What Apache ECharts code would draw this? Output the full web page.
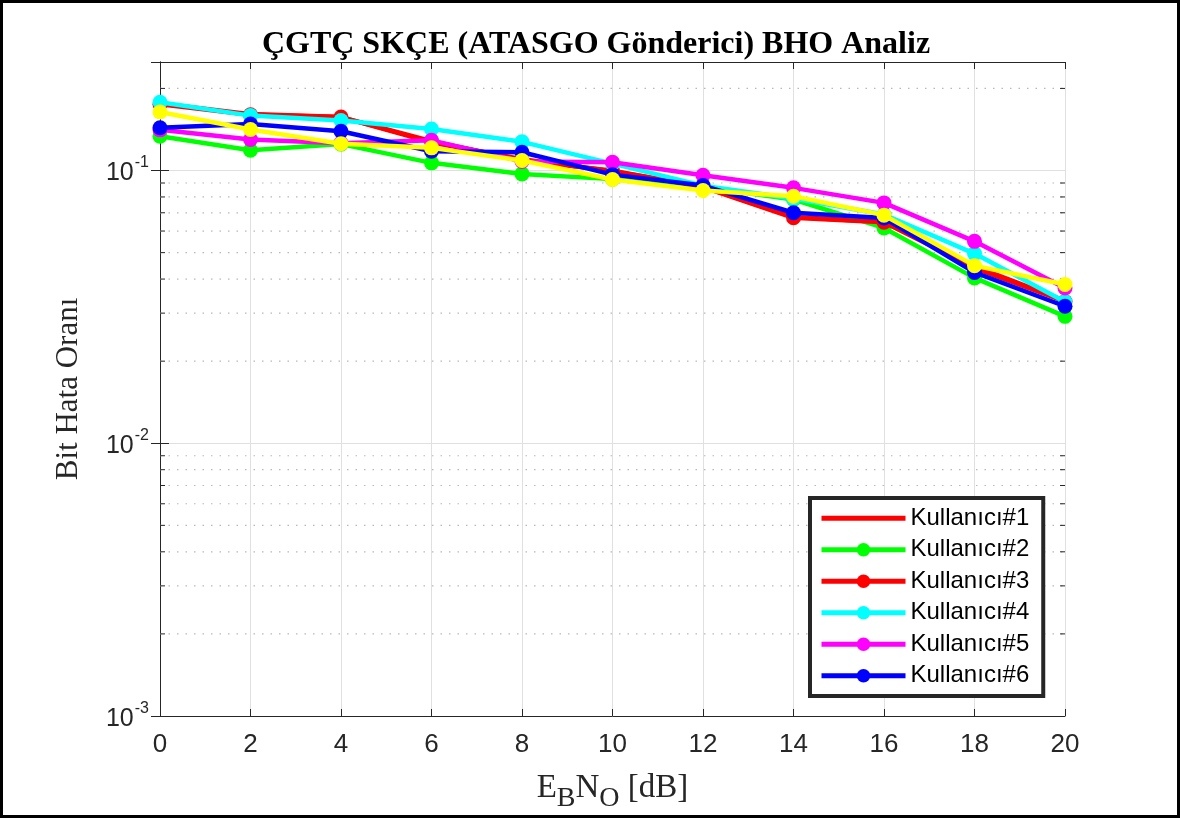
<!DOCTYPE html>
<html>
<head>
<meta charset="utf-8">
<script src="https://cdn.jsdelivr.net/npm/echarts@6/dist/echarts.min.js"></script>
<style>
  html, body { margin: 0; padding: 0; background: #fff; }
  #view { width: 1180px; height: 818px; }
</style>
</head>
<body>
<div id="view"></div>
<script>
var snr = [0, 2, 4, 6, 8, 10, 12, 14, 16, 18, 20];

var user1 = [0.176, 0.161, 0.157, 0.127, 0.110, 0.0995, 0.0872, 0.0675, 0.0648, 0.0445, 0.0333];
var user2 = [0.1336, 0.1187, 0.125, 0.1067, 0.0972, 0.0930, 0.0870, 0.0783, 0.0616, 0.0404, 0.0292];
var user3 = [0.175, 0.160, 0.157, 0.128, 0.109, 0.0998, 0.0870, 0.0671, 0.0646, 0.0440, 0.0331];
var user4 = [0.178, 0.159, 0.1525, 0.142, 0.1274, 0.106, 0.0880, 0.0790, 0.0690, 0.0496, 0.0330];
var user5 = [0.141, 0.130, 0.126, 0.129, 0.108, 0.1073, 0.0961, 0.0864, 0.0761, 0.0550, 0.0371];
var user6 = [0.1435, 0.148, 0.1394, 0.1177, 0.1167, 0.0966, 0.0881, 0.0700, 0.0670, 0.0423, 0.0318];
var user7 = [0.164, 0.1414, 0.1253, 0.1211, 0.1088, 0.0927, 0.0845, 0.0805, 0.0686, 0.0448, 0.0382];

var names = ['Kullanıcı#1', 'Kullanıcı#2', 'Kullanıcı#3', 'Kullanıcı#4', 'Kullanıcı#5', 'Kullanıcı#6', 'Kullanıcı#7'];
var colors = ['#ff0000', '#00ff00', '#ff0000', '#00ffff', '#ff00ff', '#0000ff', '#ffff00'];
var minorVals = [0.002, 0.003, 0.004, 0.005, 0.006, 0.007, 0.008, 0.009,
                 0.02, 0.03, 0.04, 0.05, 0.06, 0.07, 0.08, 0.09, 0.2];

var myChart = echarts.init(document.getElementById('view'));

function pairs(arr) {
    return arr.map(function (v, i) { return [snr[i], v]; });
}

var allData = [user1, user2, user3, user4, user5, user6, user7];
var lineSeries = allData.map(function (d, i) {
    return {
        name: names[i],
        type: 'line',
        data: pairs(d),
        symbol: i === 0 ? 'none' : 'circle',
        symbolSize: 15,
        showSymbol: i !== 0,
        color: colors[i],
        lineStyle: { width: 4.5, color: colors[i] },
        itemStyle: { color: colors[i] },
        z: 3 + i,
        animation: false
    };
});

// dotted minor grid + minor ticks for the log axis (2..9 of each decade)
var minorSeries = {
    type: 'custom',
    silent: true,
    z: 1,
    data: minorVals.map(function (v) { return [0, v]; }),
    encode: { x: 0, y: 1 },
    renderItem: function (params, api) {
        var v = api.value(1);
        var p0 = api.coord([0, v]);
        var p1 = api.coord([20, v]);
        return {
            type: 'group',
            children: [
                { type: 'line', shape: { x1: p0[0], y1: p0[1], x2: p1[0], y2: p1[1] },
                  style: { stroke: '#b8b8b8', lineWidth: 1.2, lineDash: [1.5, 7] } },
                { type: 'line', shape: { x1: p0[0], y1: p0[1], x2: p0[0] + 5, y2: p0[1] },
                  style: { stroke: '#262626', lineWidth: 1 } },
                { type: 'line', shape: { x1: p1[0], y1: p1[1], x2: p1[0] - 5, y2: p1[1] },
                  style: { stroke: '#262626', lineWidth: 1 } }
            ]
        };
    },
    animation: false
};

function logLabel(value) {
    var l = Math.log10(value);
    var e = Math.round(l);
    if (Math.abs(l - e) > 1e-6) return '';
    return '{b|10}{s|' + e + '}';
}

var axisColor = '#262626';

var legendData = names.slice(0, 6).map(function (n, i) {
    return i === 0 ? { name: n, itemStyle: { opacity: 0 } } : { name: n };
});

option = {
    backgroundColor: '#fff',
    animation: false,
    title: {
        text: 'ÇGTÇ SKÇE (ATASGO Gönderici) BHO Analiz',
        left: 591,
        textAlign: 'center',
        top: 24,
        textStyle: { fontFamily: 'Liberation Serif', fontWeight: 'bold', fontSize: 32, color: '#000' }
    },
    legend: {
        orient: 'vertical',
        left: 810,
        top: 498,
        data: legendData,
        itemWidth: 84,
        itemHeight: 17,
        itemGap: 7,
        padding: [8, 14, 8, 9],
        backgroundColor: '#fff',
        borderColor: '#262626',
        borderWidth: 4,
        lineStyle: { width: 5 },
        textStyle: { fontFamily: 'Liberation Sans', fontSize: 24, lineHeight: 24.5, color: '#000' }
    },
    grid: { left: 160, right: 115, top: 62, bottom: 102, containLabel: false, outerBoundsMode: 'none' },
    xAxis: [
        {
            type: 'value', min: 0, max: 20, interval: 2,
            name: '{e|E}{sub|B}{e|N}{sub|O}{e| [dB]}',
            nameLocation: 'middle', nameGap: 47,
            nameTextStyle: {
                rich: {
                    e: { fontFamily: 'Liberation Serif', fontSize: 33, color: '#262626' },
                    sub: { fontFamily: 'Liberation Serif', fontSize: 28, color: '#262626', padding: [22, 0, 0, 0] }
                }
            },
            axisLine: { show: true, lineStyle: { color: axisColor, width: 1 } },
            axisTick: { show: true, inside: true, length: 7, lineStyle: { color: axisColor } },
            axisLabel: { fontFamily: 'Liberation Sans', fontSize: 26, color: axisColor, margin: 16 },
            splitLine: { show: true, lineStyle: { color: '#e0e0e0', width: 1 } }
        },
        {
            type: 'value', min: 0, max: 20, interval: 2, position: 'top',
            axisLine: { show: true, lineStyle: { color: axisColor, width: 1 } },
            axisTick: { show: true, inside: true, length: 7, lineStyle: { color: axisColor } },
            axisLabel: { show: false },
            splitLine: { show: false }
        }
    ],
    yAxis: [
        {
            type: 'log', min: 0.001, max: 0.25, logBase: 10,
            name: 'Bit Hata Oranı',
            nameLocation: 'middle', nameGap: 76, nameRotate: 90,
            nameTextStyle: { fontFamily: 'Liberation Serif', fontSize: 31, color: '#262626' },
            axisLine: { show: true, lineStyle: { color: axisColor, width: 1 } },
            axisTick: { show: true, inside: true, length: 9, lineStyle: { color: axisColor } },
            axisLabel: {
                formatter: logLabel, margin: 11, color: axisColor,
                rich: {
                    b: { fontFamily: 'Liberation Sans', fontSize: 25, lineHeight: 31, verticalAlign: 'bottom', color: axisColor },
                    s: { fontFamily: 'Liberation Sans', fontSize: 16, lineHeight: 16, verticalAlign: 'top', color: axisColor, padding: [0, 0, 0, 1] }
                }
            },
            splitLine: { show: true, lineStyle: { color: '#e0e0e0', width: 1 } }
        },
        {
            type: 'log', min: 0.001, max: 0.25, logBase: 10, position: 'right',
            axisLine: { show: true, lineStyle: { color: axisColor, width: 1 } },
            axisTick: { show: true, inside: true, length: 9, lineStyle: { color: axisColor } },
            axisLabel: { show: false },
            splitLine: { show: false }
        }
    ],
    graphic: [
        {
            type: 'rect', silent: true, z: 100,
            shape: { x: 1.5, y: 1.5, width: 1177, height: 815 },
            style: { fill: 'none', stroke: '#000', lineWidth: 3 }
        }
    ],
    series: [minorSeries].concat(lineSeries)
};

myChart.setOption(option);
</script>
</body>
</html>
